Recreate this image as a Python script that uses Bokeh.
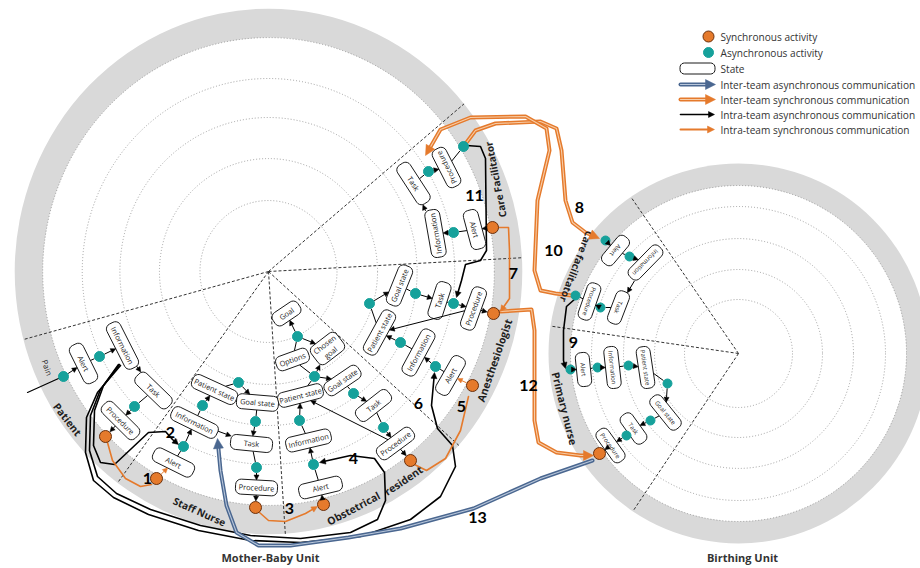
import math
import numpy as np
from bokeh.plotting import figure
from bokeh.models import Range1d, Arrow, NormalHead, ColumnDataSource
from bokeh.core.properties import value
from bokeh.embed import file_html
from bokeh.resources import INLINE

IMG_W = 920
IMG_H = 568


def Y(y):
    return IMG_H - y


# ---------------- data ----------------
unit_titles = ["Mother-Baby Unit", "Birthing Unit"]
unit_title_x = [270, 742]
unit_title_y = [557, 557]

# unit geometry (image pixels): centre, ring radii, dotted circles, sector dividers (deg, clockwise)
mbu_center = (268, 271)
mbu_ring = (234, 263)
mbu_circles = [234, 193, 154, 113, 71]
mbu_xscale = 0.965
mbu_dividers = [-39.6, -3.0, 41.4, 86.2, 126.5, 165.0]

bu_center = (738, 353)
bu_ring = (168, 190)
bu_circles = [168, 147, 115, 84, 54]
bu_xscale = 1.0
bu_dividers = [-124.5, -171.7, 123.8]

role_labels = ["Care Facilitator", "Anesthesiologist", "Obstetrical", "resident", "Staff Nurse",
               "Patient", "Pain", "Care facilitator", "Primary nurse"]
role_x = [495, 494, 353, 403, 199, 67, 47, 576, 564]
role_y = [179, 360, 508, 480, 511, 419, 367, 266, 408]
role_angle = [101, 71, 28, 34, -24, -52, -70, -111, -76]
role_size = ["10px", "10.5px", "10.5px", "10.5px", "10px", "10.5px", "8px", "10px", "10.5px"]

# states: key, label, x, y, length
mbu_states = [
    ("P_alert", "Alert", 83, 363, 42), ("P_info", "Information", 122, 345, 50),
    ("P_task", "Task", 153, 390, 44), ("P_proc", "Procedure", 120, 420, 46),
    ("S_alert", "Alert", 173, 462, 44), ("S_info", "Information", 194, 422, 50),
    ("S_pstate", "Patient state", 214, 389, 48), ("S_gstate", "Goal state", 257, 402, 42),
    ("S_task", "Task", 251, 443, 42), ("S_proc", "Procedure", 256, 487, 42),
    ("O_goal", "Goal", 286, 313, 30), ("O_options", "Options", 292, 359, 34),
    ("O_chosen", "Chosen\ngoal", 327, 348, 32), ("O_pstate", "Patient state", 300, 395, 46),
    ("O_gstate", "Goal state", 342, 380, 40), ("O_task", "Task", 373, 405, 40),
    ("O_info", "Information", 308, 440, 46), ("O_alert", "Alert", 320, 487, 44),
    ("O_proc", "Procedure", 395, 443, 42),
    ("A_alert", "Alert", 450, 375, 42), ("A_info", "Information", 418, 352, 50),
    ("A_pstate", "Patient state", 379, 332, 48), ("A_gstate", "Goal state", 399, 285, 42),
    ("A_task", "Task", 439, 300, 38), ("A_proc", "Procedure", 473, 308, 44),
    ("C_alert", "Alert", 474, 229, 40), ("C_info", "Information", 435, 233, 48),
    ("C_task", "Task", 413, 183, 46), ("C_proc", "Procedure", 446, 167, 42),
]
bu_states = [
    ("B_c_alert", "Alert", 615, 250, 34), ("B_c_info", "Information", 645, 262, 42),
    ("B_c_task", "Task", 618, 307, 34), ("B_c_proc", "Procedure", 589, 301, 38),
    ("B_p_alert", "Alert", 583, 369, 34), ("B_p_info", "Information", 612, 367, 42),
    ("B_p_pstate", "Patient state", 645, 367, 42), ("B_p_gstate", "Goal state", 665, 412, 40),
    ("B_p_task", "Task", 633, 428, 34), ("B_p_proc", "Procedure", 610, 445, 38),
]
state_angle_override = {"A_gstate": 68, "A_task": 72, "A_proc": 70, "C_alert": -75, "C_info": 100,
                        "C_task": -57, "C_proc": 117, "O_goal": 34, "O_options": 20}

# activities: key, x, y, kind (s = synchronous, a = asynchronous)
activities = [
    ("p_d0", 63, 376, "a"), ("p_d1", 99, 356, "a"), ("p_d2", 134, 406, "a"), ("p_o1", 105, 436, "s"),
    ("s_o1", 156, 478, "s"), ("s_d1", 183, 446, "a"), ("s_d2", 202, 405, "a"), ("s_d3", 238, 382, "a"),
    ("s_d4", 255, 421, "a"), ("s_d5", 256, 467, "a"), ("s_o2", 255, 507, "s"),
    ("o_o1", 323, 504, "s"), ("o_d1", 313, 464, "a"), ("o_d2", 299, 420, "a"), ("o_d3", 314, 376, "a"),
    ("o_d4", 297, 336, "a"), ("o_d5", 353, 393, "a"), ("o_d6", 383, 427, "a"), ("o_o2", 410, 460, "s"),
    ("a_o1", 472, 385, "s"), ("a_d1", 435, 366, "a"), ("a_d2", 400, 342, "a"), ("a_d3", 369, 303, "a"),
    ("a_d4", 415, 293, "a"), ("a_d5", 453, 303, "a"), ("a_o2", 493, 313, "s"),
    ("c_o1", 492, 227, "s"), ("c_d1", 453, 232, "a"), ("c_d2", 428, 171, "a"), ("c_d3", 463, 146, "a"),
    ("bc_d1", 605, 240, "a"), ("bc_d2", 629, 256, "a"), ("bc_d3", 600, 307, "a"), ("bc_d4", 575, 295, "a"),
    ("bp_d1", 570, 369, "a"), ("bp_d2", 597, 367, "a"), ("bp_d3", 628, 365, "a"), ("bp_d4", 667, 383, "a"),
    ("bp_d5", 650, 420, "a"), ("bp_d6", 626, 435, "a"), ("bp_o1", 599, 453, "s"),
]

# intra-sector transitions
transitions = [
    ("p_d0", "P_alert"), ("P_alert", "p_d1"), ("p_d1", "P_info"), ("P_info", "P_task"), ("P_task", "p_d2"),
    ("p_d2", "P_proc"), ("P_proc", "p_o1"),
    ("S_alert", "s_d1"), ("s_d1", "S_info"), ("S_info", "s_d2"), ("s_d2", "S_pstate"), ("S_pstate", "s_d3"),
    ("s_d3", "S_gstate"), ("S_gstate", "s_d4"), ("s_d4", "S_task"), ("S_task", "s_d5"), ("s_d5", "S_proc"),
    ("S_proc", "s_o2"), ("S_info", "S_task"),
    ("o_o1", "O_alert"), ("O_alert", "o_d1"), ("o_d1", "O_info"), ("O_info", "o_d2"), ("o_d2", "O_pstate"),
    ("O_pstate", "o_d3"), ("O_options", "o_d3"), ("o_d3", "O_chosen"), ("o_d3", "O_gstate"),
    ("O_options", "o_d4"), ("o_d4", "O_goal"), ("o_d4", "O_chosen"), ("O_gstate", "o_d5"), ("o_d5", "O_task"),
    ("O_task", "o_d6"), ("o_d6", "O_proc"), ("O_proc", "O_pstate"), ("O_proc", "o_o2"),
    ("A_alert", "a_d1"), ("a_d1", "A_info"), ("A_info", "a_d2"), ("a_d2", "A_pstate"), ("A_pstate", "a_d3"),
    ("a_d3", "A_gstate"), ("A_gstate", "a_d4"), ("a_d4", "A_task"), ("A_task", "a_d5"), ("a_d5", "A_proc"),
    ("A_proc", "a_o2"), ("A_proc", "A_pstate"),
    ("c_o1", "C_alert"), ("C_alert", "c_d1"), ("c_d1", "C_info"), ("C_info", "C_task"), ("C_task", "c_d2"),
    ("c_d2", "C_proc"), ("C_proc", "c_d3"),
    ("bc_d1", "B_c_alert"), ("B_c_alert", "bc_d2"), ("bc_d2", "B_c_info"), ("B_c_info", "B_c_task"),
    ("B_c_task", "bc_d3"), ("bc_d3", "B_c_proc"), ("B_c_proc", "bc_d4"),
    ("bp_d1", "B_p_alert"), ("B_p_alert", "bp_d2"), ("bp_d2", "B_p_info"), ("B_p_info", "bp_d3"),
    ("bp_d3", "B_p_pstate"), ("B_p_pstate", "bp_d4"), ("bp_d4", "B_p_gstate"), ("B_p_gstate", "bp_d5"),
    ("bp_d5", "B_p_task"), ("B_p_task", "bp_d6"), ("bp_d6", "B_p_proc"), ("B_p_proc", "bp_o1"),
]
sync_transitions = [("s_o1", "S_alert"), ("a_o1", "A_alert")]

# communication routes (numbered)
intra_async_routes = {
    "2": [(118, 364), (103, 385), (94, 410), (93, 445), (100, 462), (114, 464), (148, 432), (165, 431), (172, 439), (178, 444)],
    "4": [(119, 364), (100, 389), (90, 415), (89, 450), (97, 476), (116, 493), (150, 509), (200, 525), (250, 535),
          (300, 538), (350, 532), (377, 519), (385, 500), (384, 472), (374, 458), (350, 455), (319, 462)],
    "6": [(120, 365), (97, 392), (86, 417), (85, 452), (93, 480), (113, 497), (148, 514), (198, 530), (250, 540),
          (300, 542), (360, 536), (410, 519), (440, 496), (455, 466), (452, 445), (437, 428), (431, 405), (434, 372)],
    "9": [(575, 298), (566, 306), (563, 330), (563, 360), (565, 368)],
    "11": [(466, 145), (480, 146), (485, 158), (486, 250), (480, 260), (465, 264), (461, 280), (456, 297)],
}
pain_route = [(27, 392), (58, 378)]
intra_sync_routes = {
    "1": ([(107, 442), (112, 460), (125, 478), (140, 486), (151, 484)], False),
    "3": ([(259, 512), (268, 520), (285, 521), (305, 513), (317, 506)], True),
    "5": ([(414, 464), (426, 470), (445, 458), (460, 430), (468, 396)], False),
    "7": ([(497, 227), (508, 227), (509, 250), (509, 298), (500, 311)], True),
}
inter_sync_routes = {
    "8": [(466, 142), (475, 130), (495, 123), (540, 121), (556, 128), (561, 150), (565, 200), (572, 222), (585, 232), (599, 238)],
    "10": [(571, 295), (555, 293), (540, 290), (534, 270), (537, 200), (549, 150), (546, 128), (525, 116), (470, 117), (440, 129), (425, 155)],
    "12": [(500, 311), (531, 309), (534, 330), (534, 420), (538, 442), (556, 452), (580, 455), (593, 455)],
}
inter_async_routes = {
    "13": [(592, 460), (540, 478), (473, 508), (400, 528), (348, 537), (290, 545), (258, 545), (236, 532),
           (226, 505), (220, 470), (217, 438)],
}

route_numbers = ["1", "2", "3", "4", "5", "6", "7", "8", "9", "10", "11", "12", "13"]
number_x = [147, 170, 289, 353, 461, 418, 513, 579, 573, 553, 474, 528, 477]
number_y = [478, 432, 508, 458, 406, 403, 273, 207, 342, 250, 195, 385, 517]

legend_labels = ["Synchronous activity", "Asynchronous activity", "State",
                 "Inter-team asynchronous communication", "Inter-team synchronous communication",
                 "Intra-team asynchronous communication", "Intra-team synchronous communication"]
legend_y = [36, 52, 68, 84, 99, 114, 129]

# ---------------- styles ----------------
TEAL = "#16a19b"
ORANGE = "#e57a2c"
ORANGE_EDGE = "#6b300c"
RING = "#d9d9d9"
BLUE = "#4a6790"
BLUE_IN = "#b8c6da"
OR_IN = "#f7cda8"
FONT = value("Open Sans")
MBU_FS = "7.4px"
BU_FS = "6.1px"

p = figure(width=IMG_W, height=IMG_H, x_range=Range1d(0, IMG_W), y_range=Range1d(0, IMG_H),
           output_backend="svg", toolbar_location=None, x_axis_location=None, y_axis_location=None,
           min_border=0)
p.outline_line_color = None
p.background_fill_color = "white"
p.border_fill_color = "white"
p.xgrid.visible = False
p.ygrid.visible = False


def draw_unit(center, ring, circles, xscale, dividers):
    cx, cy = center
    p.ellipse(x=[cx], y=[Y(cy)], width=[2 * ring[1] * xscale], height=[2 * ring[1]],
              fill_color=RING, line_color=None)
    p.ellipse(x=[cx], y=[Y(cy)], width=[2 * ring[0] * xscale], height=[2 * ring[0]],
              fill_color="white", line_color=None)
    n = len(circles)
    p.ellipse(x=[cx] * n, y=[Y(cy)] * n, width=[2 * r * xscale for r in circles],
              height=[2 * r for r in circles], fill_color=None, line_color="#8a8a8a",
              line_width=0.8, line_dash="1 2")
    x1 = [cx + ring[1] * xscale * math.cos(math.radians(a)) for a in dividers]
    y1 = [Y(cy + ring[1] * math.sin(math.radians(a))) for a in dividers]
    p.segment(x0=[cx] * len(dividers), y0=[Y(cy)] * len(dividers), x1=x1, y1=y1,
              line_color="#333333", line_width=1, line_dash="3 2")


draw_unit(mbu_center, mbu_ring, mbu_circles, mbu_xscale, mbu_dividers)
draw_unit(bu_center, bu_ring, bu_circles, bu_xscale, bu_dividers)

# state registry
states = {}
for rows, center, wid, fsize in ((mbu_states, mbu_center, 15, MBU_FS), (bu_states, bu_center, 14, BU_FS)):
    for key, label, x, y, length in rows:
        ang = 90 - math.degrees(math.atan2(y - center[1], x - center[0]))
        while ang > 180:
            ang -= 360
        while ang <= -180:
            ang += 360
        ang = state_angle_override.get(key, ang)
        states[key] = dict(label=label, x=x, y=y, L=length, W=wid if key != "O_chosen" else 22, ang=ang, fs=fsize)

acts = {k: dict(x=x, y=y, kind=kind, r=(6 if kind == "s" else (4.5 if k.startswith("b") else 5)))
        for k, x, y, kind in activities}


def boundary(key, ux, uy):
    if key in acts:
        return acts[key]["r"] + 0.5
    s = states[key]
    a = math.radians(s["ang"])
    lx = ux * math.cos(a) + uy * math.sin(a)
    ly = -ux * math.sin(a) + uy * math.cos(a)
    tx = (s["L"] / 2) / abs(lx) if abs(lx) > 1e-9 else 1e9
    ty = (s["W"] / 2) / abs(ly) if abs(ly) > 1e-9 else 1e9
    return min(tx, ty)


def pos(key):
    d = states.get(key) or acts.get(key)
    return d["x"], Y(d["y"])


def add_route(pts, color, width, head=True, head_size=6, inner=None):
    xs = [x for x, _ in pts]
    ys = [Y(y) for _, y in pts]
    if head:
        dx, dy = xs[-1] - xs[-2], ys[-1] - ys[-2]
        d = math.hypot(dx, dy)
        short = min(head_size * 0.7, d * 0.8)
        xs_l = xs[:-1] + [xs[-1] - dx / d * short]
        ys_l = ys[:-1] + [ys[-1] - dy / d * short]
    else:
        xs_l, ys_l = xs, ys
    p.line(xs_l, ys_l, line_color=color, line_width=width, line_join="round", line_cap="round")
    if inner:
        p.line(xs_l, ys_l, line_color=inner, line_width=1.1, line_join="round", line_cap="round")
    if head:
        p.add_layout(Arrow(end=NormalHead(size=head_size, fill_color=color, line_color=color, line_width=0.5),
                           x_start=xs[-2], y_start=ys[-2], x_end=xs[-1], y_end=ys[-1], line_alpha=0))


# pain input
add_route(pain_route, "black", 1.2, head=False)

# routes
for key, pts in intra_async_routes.items():
    add_route(pts, "black", 1.6, head=True, head_size=6)
for key, (pts, hd) in intra_sync_routes.items():
    add_route(pts, ORANGE, 1.6, head=hd, head_size=6)
for key, pts in inter_sync_routes.items():
    add_route(pts, ORANGE, 4, head=True, head_size=10, inner=OR_IN)
for key, pts in inter_async_routes.items():
    add_route(pts, BLUE, 4, head=True, head_size=10, inner=BLUE_IN)


def edge_geometry(edges):
    out = dict(x0=[], y0=[], x1=[], y1=[], head=[])
    for a, b in edges:
        xa, ya = pos(a)
        xb, yb = pos(b)
        dx, dy = xb - xa, yb - ya
        d = math.hypot(dx, dy)
        ux, uy = dx / d, dy / d
        ta, tb = boundary(a, ux, uy), boundary(b, ux, uy)
        out["x0"].append(xa + ux * ta)
        out["y0"].append(ya + uy * ta)
        out["x1"].append(xb - ux * tb)
        out["y1"].append(yb - uy * tb)
        out["head"].append(b in states or (b in acts and acts[b]["kind"] == "s"))
    return out


def draw_edges(edges, color):
    g = edge_geometry(edges)
    heads = {k: [v for v, h in zip(g[k], g["head"]) if h] for k in ("x0", "y0", "x1", "y1")}
    plain = {k: [v for v, h in zip(g[k], g["head"]) if not h] for k in ("x0", "y0", "x1", "y1")}
    if plain["x0"]:
        p.segment(x0=plain["x0"], y0=plain["y0"], x1=plain["x1"], y1=plain["y1"], line_color=color, line_width=1)
    if heads["x0"]:
        src = ColumnDataSource(heads)
        p.add_layout(Arrow(end=NormalHead(size=5, fill_color=color, line_color=color, line_width=0.5),
                           source=src, x_start="x0", y_start="y0", x_end="x1", y_end="y1",
                           line_color=color, line_width=1))


draw_edges(transitions, "black")
draw_edges(sync_transitions, ORANGE)


def rounded_rect(cx, cy, L, W, ang_deg, n=6):
    r = min(W / 2 * 0.8, 5.5)
    hx, hy = L / 2, W / 2
    pts = []
    for ox, oy, a0 in ((hx - r, hy - r, 0), (-hx + r, hy - r, 90), (-hx + r, -hy + r, 180), (hx - r, -hy + r, 270)):
        for t in np.linspace(a0, a0 + 90, n):
            pts.append((ox + r * math.cos(math.radians(t)), oy + r * math.sin(math.radians(t))))
    a = math.radians(ang_deg)
    xs = [cx + px * math.cos(a) - py * math.sin(a) for px, py in pts]
    ys = [cy + px * math.sin(a) + py * math.cos(a) for px, py in pts]
    return xs, ys


# state boxes
pxs, pys = [], []
for k, s in states.items():
    xs, ys = rounded_rect(s["x"], Y(s["y"]), s["L"], s["W"], s["ang"])
    pxs.append(xs)
    pys.append(ys)
p.patches(pxs, pys, fill_color="white", line_color="#1a1a1a", line_width=1)
for fs in (MBU_FS, BU_FS):
    ks = [k for k in states if states[k]["fs"] == fs]
    src = ColumnDataSource(dict(x=[states[k]["x"] for k in ks], y=[Y(states[k]["y"]) for k in ks],
                                t=[states[k]["label"] for k in ks], a=[states[k]["ang"] for k in ks]))
    p.text(x="x", y="y", text="t", angle="a", angle_units="deg", source=src, text_align="center",
           text_baseline="middle", text_font=FONT, text_font_size=fs, text_color="#1a1a1a",
           text_line_height=1.0)

# activities
for kind, color, edge in (("a", TEAL, TEAL), ("s", ORANGE, ORANGE_EDGE)):
    ks = [k for k in acts if acts[k]["kind"] == kind]
    p.scatter(x=[acts[k]["x"] for k in ks], y=[Y(acts[k]["y"]) for k in ks],
              size=[acts[k]["r"] * 2 for k in ks], fill_color=color, line_color=edge, line_width=1)

# role labels on rings
for lab, x, y, a, fs in zip(role_labels, role_x, role_y, role_angle, role_size):
    p.text(x=[x], y=[Y(y)], text=[lab], angle=[a], angle_units="deg", text_align="center",
           text_baseline="middle", text_font=FONT, text_font_size=fs,
           text_font_style="bold" if lab != "Pain" else "normal", text_color="#1e1e1e")

# route numbers
p.text(x=number_x, y=[Y(v) for v in number_y], text=route_numbers, text_align="center",
       text_baseline="middle", text_font=value("Lato"), text_font_size="16px", text_font_style="bold",
       text_color="black")

# unit titles
p.text(x=unit_title_x, y=[Y(v) for v in unit_title_y], text=unit_titles, text_align="center",
       text_baseline="middle", text_font=FONT, text_font_size="11px", text_font_style="bold",
       text_color="#333333")

# legend
LX0, LX1, LTX = 680, 715, 720
p.scatter(x=[708], y=[Y(legend_y[0])], size=11, fill_color=ORANGE, line_color=ORANGE_EDGE, line_width=1)
p.scatter(x=[708], y=[Y(legend_y[1])], size=10, fill_color=TEAL, line_color=TEAL)
lx, ly = rounded_rect(697, Y(legend_y[2]), 35, 11, 0)
p.patch(lx, ly, fill_color="white", line_color="#1a1a1a", line_width=1)
add_route([(LX0, legend_y[3]), (LX1, legend_y[3])], BLUE, 4, head=True, head_size=10, inner=BLUE_IN)
add_route([(LX0, legend_y[4]), (LX1, legend_y[4])], ORANGE, 4, head=True, head_size=10, inner=OR_IN)
add_route([(LX0, legend_y[5]), (LX1 - 1, legend_y[5])], "black", 1.6, head=True, head_size=6)
add_route([(LX0, legend_y[6]), (LX1 - 1, legend_y[6])], ORANGE, 2, head=True, head_size=7)
p.text(x=[LTX] * len(legend_labels), y=[Y(v) for v in legend_y], text=legend_labels, text_align="left",
       text_baseline="middle", text_font=FONT, text_font_size="10.1px", text_color="#333333")

open("out.html", "w").write(file_html(p, INLINE))
